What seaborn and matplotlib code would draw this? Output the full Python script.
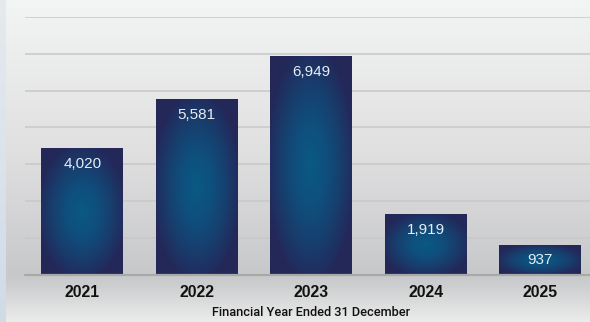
import numpy as np
import pandas as pd
import matplotlib
matplotlib.use("Agg")
import matplotlib.pyplot as plt
from matplotlib.colors import LinearSegmentedColormap, to_rgb
import seaborn as sns

# ---- data ----
years = ["2021", "2022", "2023", "2024", "2025"]
values = [4020, 5581, 6949, 1919, 937]
value_labels = ["4,020", "5,581", "6,949", "1,919", "937"]
xlabel = "Financial Year Ended 31 December"

sns.set_theme(style="white")
plt.rcParams["font.family"] = ["Liberation Sans", "DejaVu Sans"]

W, H = 590, 322
fig = plt.figure(figsize=(W / 100, H / 100), dpi=100)

# ---- background gradient ----
bg = fig.add_axes([0, 0, 1, 1], zorder=-10)
yy = np.arange(H)
stops_y = [0, 150, 275, 285, 322]
stops_c = [to_rgb("#f3f4f4"), to_rgb("#e0e0e1"), to_rgb("#c7c8ca"),
           to_rgb("#cdcecf"), to_rgb("#ececec")]
col = np.zeros((H, 3))
for k in range(3):
    col[:, k] = np.interp(yy, stops_y, [c[k] for c in stops_c])
img = np.repeat(col[:, None, :], W, axis=1)
strip_top = np.array(to_rgb("#e6eaee"))
strip_bot = np.array(to_rgb("#d0dbe8"))
t = (yy / (H - 1))[:, None]
strip = strip_top * (1 - t) + strip_bot * t
img[:, :6, :] = strip[:, None, :]
bg.imshow(img, aspect="auto", extent=[0, W, H, 0])
bg.set_xlim(0, W)
bg.set_ylim(H, 0)
bg.axis("off")

# ---- main axes ----
base_y = 275.0
top_y = 16.7
ax = fig.add_axes([25 / W, (H - base_y) / H, (W - 25) / W, (base_y - top_y) / H])
ax.patch.set_alpha(0)

df = pd.DataFrame({"year": years, "value": values})
sns.barplot(data=df, x="year", y="value", ax=ax, width=0.716,
            color="#1c3a6a", saturation=1, edgecolor="none")

ymax = 8180
px_per_unit = (base_y - top_y) / ymax

cmap = LinearSegmentedColormap.from_list(
    "bar", [(0.0, "#0a5984"), (0.35, "#0f4f7d"), (0.65, "#173f6e"),
            (0.88, "#1f3061"), (1.0, "#232858")])
n = 200
u = np.linspace(-1, 1, n)
U, V = np.meshgrid(u, u)
R = np.clip(np.sqrt(U ** 2 + V ** 2) / 1.1, 0, 1)

for p in ax.patches:
    x0, y0 = p.get_x(), p.get_y()
    w, h = p.get_width(), p.get_height()
    im = ax.imshow(R, extent=[x0, x0 + w, y0, y0 + h], aspect="auto",
                   cmap=cmap, vmin=0, vmax=1, zorder=3, interpolation="bilinear")
    im.set_clip_path(p)
    p.set_facecolor("none")

for i, (v, lab) in enumerate(zip(values, value_labels)):
    hpx = v * px_per_unit
    off = min(16, hpx / 2)
    ax.annotate(lab, xy=(i, v), xytext=(0, -off), textcoords="offset pixels",
                ha="center", va="center", color="#e8edf3", fontsize=11,
                zorder=5)

ax.set_xlim(-0.5, 4.434)
ax.set_ylim(0, ymax)
ax.set_yticks(np.linspace(0, ymax, 8))
ax.yaxis.grid(True, color="#c8c8c9", linewidth=1.1)
ax.set_axisbelow(True)
ax.set_yticklabels([])
ax.tick_params(axis="both", length=0)
ax.tick_params(axis="x", pad=7.5)
for lbl in ax.get_xticklabels():
    lbl.set_fontweight("bold")
    lbl.set_fontsize(11.3)
    lbl.set_color("#111111")
for s in ax.spines.values():
    s.set_visible(False)
ax.axhline(0, color="#a9a9aa", linewidth=1.6, zorder=4, clip_on=False)
ax.set_xlabel("")
ax.set_ylabel("")

fig.text(311 / W, 1 - 313 / H, xlabel, ha="center", va="center",
         fontsize=9.2, color="#111111", family=["Roboto", "Liberation Sans"],
         fontweight=500)

fig.savefig("out.png", dpi=100)
